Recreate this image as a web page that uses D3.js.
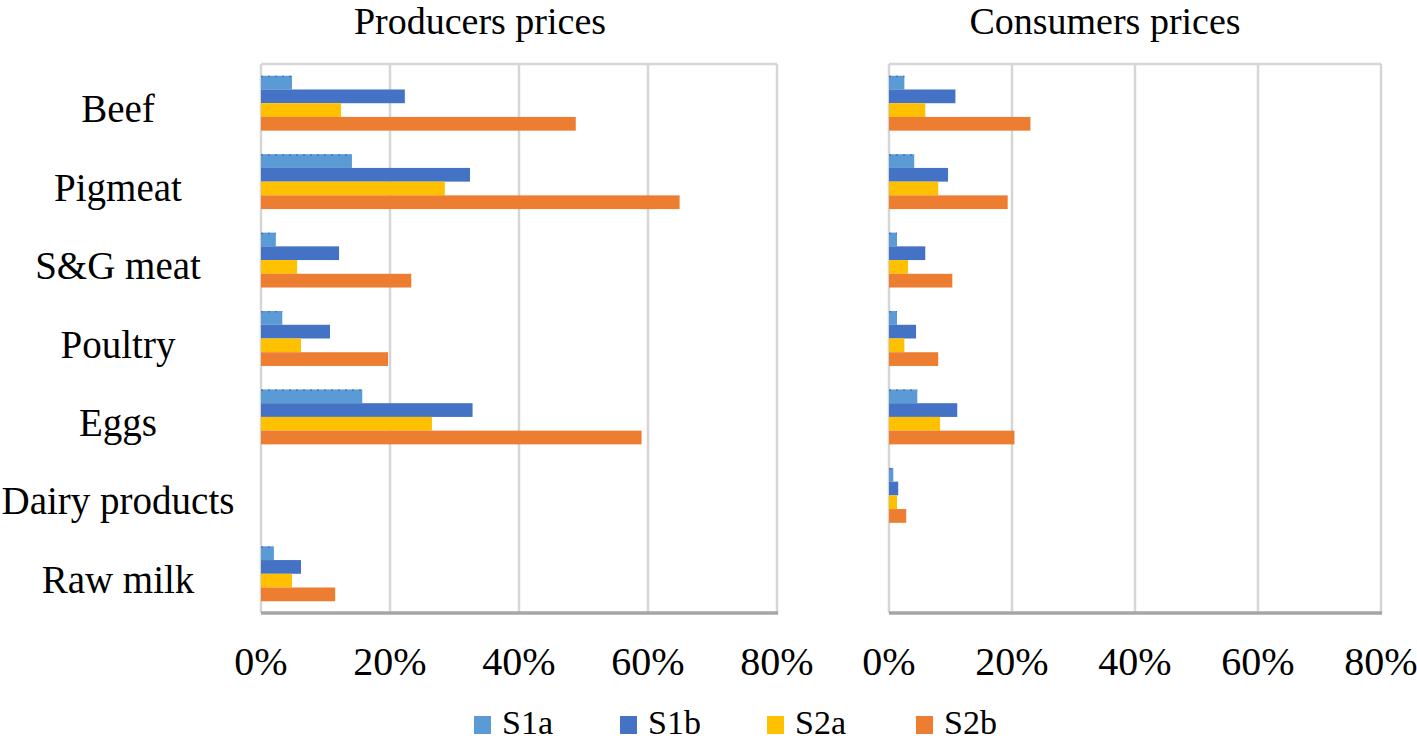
<!DOCTYPE html>
<html>
<head>
<meta charset="utf-8">
<script src="https://cdn.jsdelivr.net/npm/d3@7/dist/d3.min.js"></script>
</head>
<body style="margin:0">
<script>
// categories and series
const categories = ["Beef", "Pigmeat", "S&G meat", "Poultry", "Eggs", "Dairy products", "Raw milk"];
const series = ["S1a", "S1b", "S2a", "S2b"];
const seriesColors = ["#5b9bd5", "#4472c4", "#ffc000", "#ed7d31"];
const tickValues = [0, 0.2, 0.4, 0.6, 0.8];

// producers prices (% change), null = no bar
const prodS1a = [4.8, 14.1, 2.3, 3.3, 15.7, null, 2.0];
const prodS1b = [22.3, 32.4, 12.1, 10.7, 32.8, null, 6.2];
const prodS2a = [12.4, 28.5, 5.6, 6.2, 26.5, null, 4.8];
const prodS2b = [48.8, 64.9, 23.3, 19.7, 59.0, null, 11.5];

// consumers prices
const consS1a = [2.5, 4.1, 1.3, 1.3, 4.6, 0.7, null];
const consS1b = [10.8, 9.6, 5.9, 4.4, 11.1, 1.5, null];
const consS2a = [5.9, 8.0, 3.1, 2.5, 8.3, 1.3, null];
const consS2b = [23.0, 19.3, 10.3, 8.0, 20.4, 2.8, null];

const W = 1417, H = 743;
const svg = d3.select("body").append("svg")
  .attr("width", W).attr("height", H);

const plotTop = 64, plotBottom = 613;
const y = d3.scaleBand().domain(categories).range([plotTop, plotBottom])
  .paddingInner(0.3).paddingOuter(0.15);
const ySub = d3.scaleBand().domain(series).range([0, y.bandwidth()]);
const color = d3.scaleOrdinal().domain(series).range(seriesColors);
const fmt = d3.format(".0%");

function addText(g, x, yy, str, size, anchor) {
  return g.append("text")
    .attr("x", x).attr("y", yy)
    .attr("text-anchor", anchor || "middle")
    .attr("font-family", "Liberation Serif")
    .attr("font-size", size)
    .text(str);
}

function panel(x0, x1, values, title, titleX) {
  const x = d3.scaleLinear().domain([0, 0.8]).range([x0, x1]);
  const g = svg.append("g");

  // gridlines
  g.selectAll("line.grid").data(tickValues).join("line")
    .attr("class", "grid")
    .attr("x1", d => x(d)).attr("x2", d => x(d))
    .attr("y1", plotTop).attr("y2", plotBottom)
    .attr("stroke", "#d6d6d6").attr("stroke-width", 2.5);
  g.append("line")
    .attr("x1", x0).attr("x2", x1).attr("y1", plotTop).attr("y2", plotTop)
    .attr("stroke", "#d6d6d6").attr("stroke-width", 2.5);

  // bars
  const rows = [];
  categories.forEach((c, i) => {
    series.forEach((s, j) => {
      const v = values[j][i];
      if (v != null) rows.push({ cat: c, ser: s, v: v / 100 });
    });
  });
  g.selectAll("rect.bar").data(rows).join("rect")
    .attr("class", "bar")
    .attr("x", x(0))
    .attr("y", d => y(d.cat) + ySub(d.ser))
    .attr("width", d => x(d.v) - x(0))
    .attr("height", ySub.bandwidth())
    .attr("fill", d => color(d.ser));
  // dotted top edge on S1a bars
  g.selectAll("line.edge").data(rows.filter(d => d.ser === "S1a")).join("line")
    .attr("class", "edge")
    .attr("x1", x(0)).attr("x2", d => x(d.v))
    .attr("y1", d => y(d.cat) + 0.8).attr("y2", d => y(d.cat) + 0.8)
    .attr("stroke", "#4472c4").attr("stroke-width", 1.5)
    .attr("stroke-dasharray", "2,5");

  // bottom axis line
  g.append("line")
    .attr("x1", x0).attr("x2", x1 + 1).attr("y1", plotBottom).attr("y2", plotBottom)
    .attr("stroke", "#a6a6a6").attr("stroke-width", 3.5);

  // tick labels
  tickValues.forEach(t => addText(g, x(t), 675, fmt(t), 40));

  addText(g, titleX, 34, title, 38);
}

panel(261, 777, [prodS1a, prodS1b, prodS2a, prodS2b], "Producers prices", 480);
panel(889, 1381, [consS1a, consS1b, consS2a, consS2b], "Consumers prices", 1105);

// category labels
const labels = svg.append("g");
categories.forEach(c => addText(labels, 118, y(c) + y.bandwidth() / 2 + 19, c, 39));

// legend
const legendX = [474, 620, 767, 916];
const leg = svg.append("g");
series.forEach((s, i) => {
  leg.append("rect")
    .attr("x", legendX[i]).attr("y", 716)
    .attr("width", 17).attr("height", 18)
    .attr("fill", color(s));
  addText(leg, legendX[i] + 28, 734, s, 34, "start");
});
</script>
</body>
</html>
